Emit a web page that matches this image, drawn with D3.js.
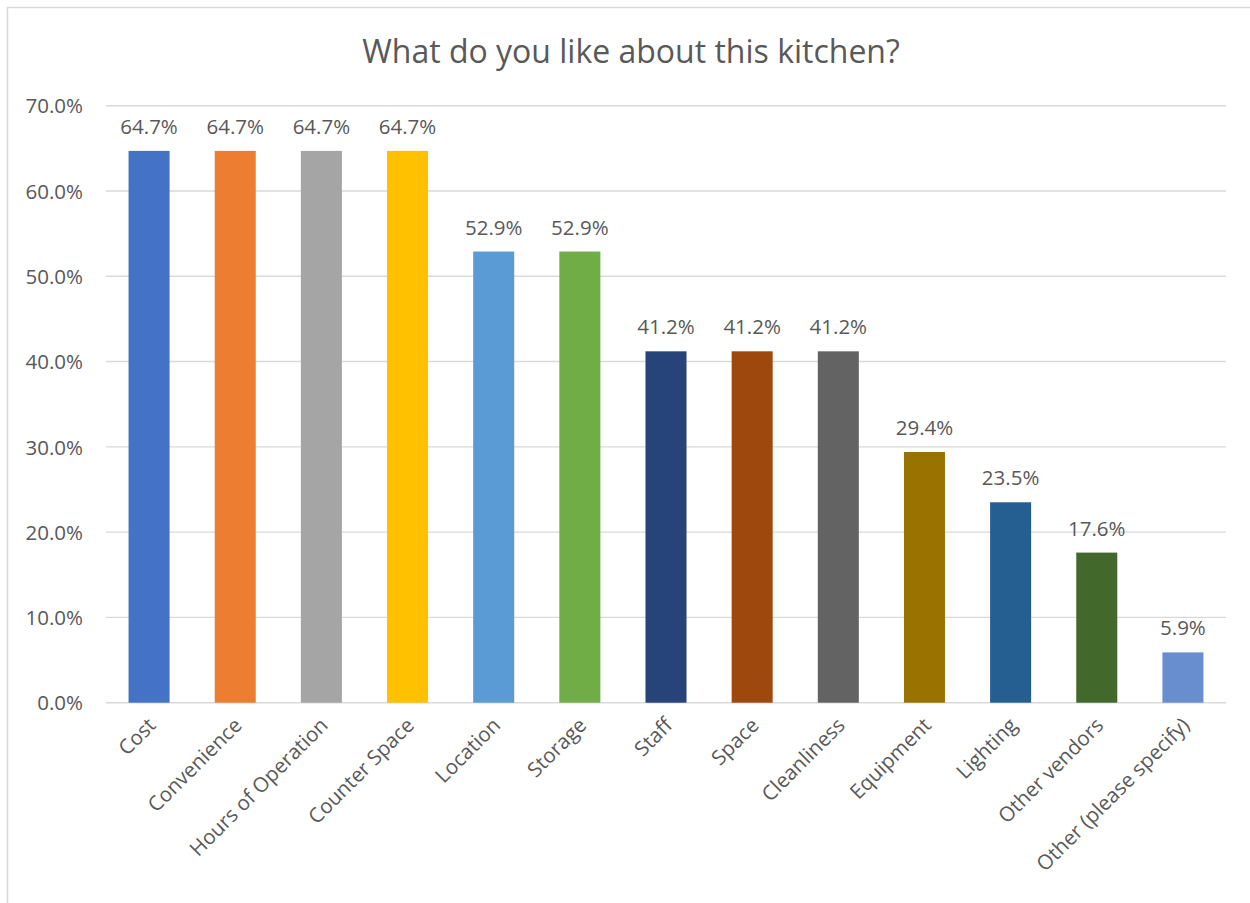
<!DOCTYPE html>
<html>
<head>
<meta charset="utf-8">
<script src="https://cdn.jsdelivr.net/npm/d3@7"></script>
<style>
  html, body { margin: 0; padding: 0; background: #fff; }
  svg { display: block; }
  text { font-family: "Open Sans", "Liberation Sans", sans-serif; fill: #595959; }
</style>
</head>
<body>
<div id="chart"></div>
<script>
// Survey question and answers
const title = "What do you like about this kitchen?";
const categories = [
  "Cost", "Convenience", "Hours of Operation", "Counter Space", "Location",
  "Storage", "Staff", "Space", "Cleanliness", "Equipment", "Lighting",
  "Other vendors", "Other (please specify)"
];
const values = [0.647, 0.647, 0.647, 0.647, 0.529, 0.529, 0.412, 0.412, 0.412, 0.294, 0.235, 0.176, 0.059];
const barColors = [
  "#4472C4", "#ED7D31", "#A5A5A5", "#FFC000", "#5B9BD5", "#70AD47",
  "#264478", "#9E480E", "#636363", "#997300", "#255E91", "#43682B", "#698ED0"
];
const yTicks = [0, 0.1, 0.2, 0.3, 0.4, 0.5, 0.6, 0.7];

const W = 1250, H = 903;
const plot = { left: 106, right: 1226, top: 105.7, bottom: 702.7 };

const svg = d3.select("#chart").append("svg")
  .attr("width", W).attr("height", H);

// chart frame
svg.append("rect")
  .attr("x", 7.5).attr("y", 7.5)
  .attr("width", W + 20).attr("height", H + 20)
  .attr("fill", "#fff").attr("stroke", "#d9d9d9").attr("stroke-width", 1.5);

const x = d3.scaleBand()
  .domain(categories)
  .range([plot.left, plot.right])
  .paddingInner(1.1 / 2.1)
  .paddingOuter(1.1 / 2.1 / 2);

const y = d3.scaleLinear().domain([0, 0.7]).range([plot.bottom, plot.top]);
const pct = d3.format(".1%");

// title
svg.append("text")
  .attr("x", 631).attr("y", 63)
  .attr("text-anchor", "middle")
  .style("font-size", "32px")
  .text(title);

// gridlines
svg.append("g")
  .selectAll("line")
  .data(yTicks)
  .join("line")
  .attr("x1", plot.left).attr("x2", plot.right)
  .attr("y1", d => y(d)).attr("y2", d => y(d))
  .attr("stroke", "#d9d9d9").attr("stroke-width", 1.4);

// y axis labels
const yAxis = d3.axisLeft(y).tickValues(yTicks).tickFormat(pct).tickSize(0).tickPadding(0);
const gy = svg.append("g").attr("transform", `translate(83,0)`).call(yAxis);
gy.select(".domain").remove();
gy.selectAll("text")
  .style("font-size", "20.5px")
  .attr("fill", "#595959")
  .attr("font-family", null)
  .attr("dy", "0.35em");

// bars
svg.append("g")
  .selectAll("rect")
  .data(values)
  .join("rect")
  .attr("x", (d, i) => x(categories[i]))
  .attr("width", x.bandwidth())
  .attr("y", d => y(d))
  .attr("height", d => y(0) - y(d))
  .attr("fill", (d, i) => barColors[i]);

// value labels
svg.append("g")
  .selectAll("text")
  .data(values)
  .join("text")
  .attr("x", (d, i) => x(categories[i]) + x.bandwidth() / 2)
  .attr("y", d => y(d) - 17)
  .attr("text-anchor", "middle")
  .style("font-size", "20.5px")
  .text(d => pct(d));

// category axis
const xAxis = d3.axisBottom(x).tickSize(0).tickPadding(0);
const gx = svg.append("g").attr("transform", `translate(0,${plot.bottom})`).call(xAxis);
gx.select(".domain").remove();
gx.selectAll("text")
  .attr("font-family", null)
  .attr("fill", "#595959")
  .style("font-size", "20.5px")
  .attr("text-anchor", "end")
  .attr("dy", null)
  .attr("y", 0)
  .attr("transform", "translate(4,20) rotate(-45)")
  .attr("dominant-baseline", "middle");
</script>
</body>
</html>
